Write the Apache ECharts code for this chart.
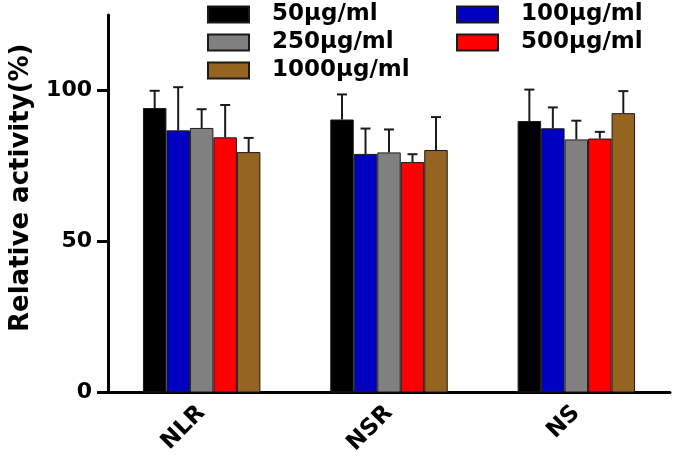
<!DOCTYPE html>
<html>
<head>
<meta charset="utf-8">
<script src="https://cdn.jsdelivr.net/npm/echarts@6/dist/echarts.min.js"></script>
<style>html,body{margin:0;padding:0;background:#fff}#c{width:675px;height:465px}</style>
</head>
<body>
<div id="c"></div>
<script>
const categories = ['NLR', 'NSR', 'NS'];
const seriesNames = ['50µg/ml', '100µg/ml', '250µg/ml', '500µg/ml', '1000µg/ml'];
const v50 = [94.2, 90.4, 89.9];
const v100 = [86.8, 79.0, 87.5];
const v250 = [87.6, 79.5, 83.8];
const v500 = [84.5, 76.3, 84.1];
const v1000 = [79.6, 80.3, 92.5];
const e50 = [5.7, 8.3, 10.4];
const e100 = [14.3, 8.4, 6.9];
const e250 = [6.2, 7.6, 6.2];
const e500 = [10.7, 2.6, 2.2];
const e1000 = [4.7, 10.9, 7.3];
const yTicks = [0, 50, 100];

const values = [v50, v100, v250, v500, v1000];
const errors = [e50, e100, e250, e500, e1000];
const colors = ['#000000', '#0000c0', '#808080', '#ff0000', '#966421'];
const catGap = 0.373;
const FONT = 'DejaVu Sans';

const chart = echarts.init(document.getElementById('c'), null, {renderer: 'canvas'});

const series = [];
seriesNames.forEach((name, i) => {
  series.push({
    name: name,
    type: 'bar',
    data: values[i],
    barGap: '0%',
    barCategoryGap: (catGap * 100) + '%',
    itemStyle: {color: colors[i], borderColor: '#1a1a1a', borderWidth: 1},
    emphasis: {disabled: true},
    z: 2
  });
});
seriesNames.forEach((name, i) => {
  series.push({
    name: 'err ' + name,
    type: 'custom',
    data: values[i].map((v, k) => [k, v, errors[i][k]]),
    z: 3,
    silent: true,
    renderItem: function (params, api) {
      const band = api.size([1, 0])[0];
      const barW = band * (1 - catGap) / seriesNames.length;
      const base = api.coord([api.value(0), api.value(1)]);
      const top = api.coord([api.value(0), api.value(1) + api.value(2)]);
      const x = base[0] + (i - (seriesNames.length - 1) / 2) * barW;
      const capHalf = 5;
      const style = {stroke: '#1a1a1a', lineWidth: 2};
      return {
        type: 'group',
        children: [
          {type: 'line', shape: {x1: x, y1: base[1], x2: x, y2: top[1]}, style: style},
          {type: 'line', shape: {x1: x - capHalf, y1: top[1], x2: x + capHalf, y2: top[1]}, style: style}
        ]
      };
    }
  });
});

const legendText = {fontFamily: FONT, fontWeight: 'bold', fontSize: 23, color: '#000', lineHeight: 23, padding: [0, 0, 0, 18]};

chart.setOption({
  animation: false,
  backgroundColor: '#fff',
  grid: {left: 104, right: 5, top: 15, bottom: 72.5, containLabel: false},
  legend: [
    {data: [seriesNames[0], seriesNames[2], seriesNames[4]], orient: 'vertical', left: 207, top: 3, padding: 0,
     itemWidth: 41, itemHeight: 16, itemGap: 5, icon: 'rect', textStyle: legendText, selectedMode: false},
    {data: [seriesNames[1], seriesNames[3]], orient: 'vertical', left: 456, top: 3, padding: 0,
     itemWidth: 41, itemHeight: 16, itemGap: 5, icon: 'rect', textStyle: legendText, selectedMode: false}
  ],
  xAxis: {
    type: 'category',
    data: categories,
    axisLine: {lineStyle: {color: '#000', width: 3}},
    axisTick: {alignWithLabel: true, length: 8, lineStyle: {color: '#000', width: 3}},
    axisLabel: {rotate: 45, margin: 17, fontFamily: FONT, fontWeight: 'bold', fontSize: 23, color: '#000'}
  },
  yAxis: {
    type: 'value',
    min: 0,
    max: 125,
    interval: 50,
    name: 'Relative activity(%)',
    nameLocation: 'middle',
    nameGap: 74,
    nameTextStyle: {fontFamily: FONT, fontWeight: 'bold', fontSize: 26, color: '#000', padding: [0, 0, 0, 32]},
    splitLine: {show: false},
    axisLine: {show: true, lineStyle: {color: '#000', width: 3}},
    axisTick: {show: true, length: 11, customValues: yTicks, lineStyle: {color: '#000', width: 3}},
    axisLabel: {margin: 16, customValues: yTicks, fontFamily: FONT, fontWeight: 'bold', fontSize: 22, color: '#000'}
  },
  series: series
});
</script>
</body>
</html>
